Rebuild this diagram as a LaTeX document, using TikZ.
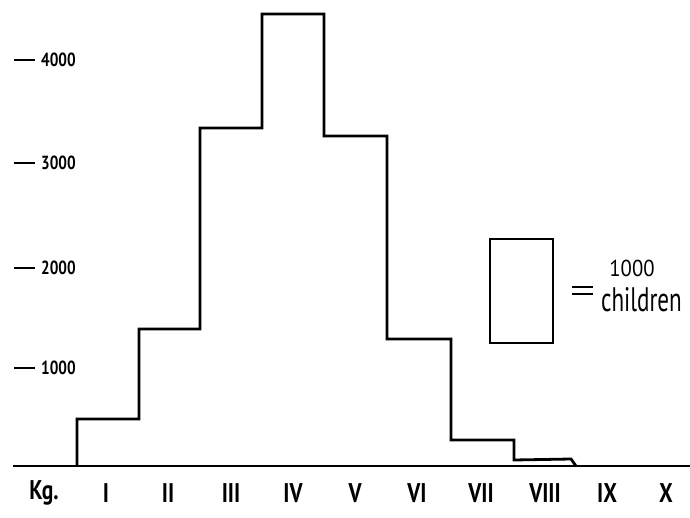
\documentclass[tikz,border=0pt]{standalone}
\usepackage{fontspec}
\setmainfont{PT Sans}
\begin{document}
\begin{tikzpicture}[x=1pt,y=-1pt,
  ink/.style={line width=2.8pt,line join=miter,black},
  tick/.style={line width=2.2pt,black},
  ticklab/.style={anchor=west,inner sep=0pt,xscale=0.8,font=\fontsize{19}{20}\selectfont\bfseries},
  catlab/.style={anchor=center,inner sep=0pt,xscale=0.8,font=\fontsize{27}{29}\selectfont\bfseries}]
\useasboundingbox (0,0) rectangle (690,518);
% baseline
\draw[ink] (13,466) -- (690,466);
% histogram outline
\draw[ink] (77,466) -- (77,419) -- (139,419) -- (139,329) -- (200,329)
  -- (200,128) -- (262,128) -- (262,14) -- (324,14) -- (324,136) -- (387,136)
  -- (387,339) -- (451,339) -- (451,440) -- (514,440) -- (514,460)
  -- (571,459) -- (576,466);
% y ticks
\foreach \yy/\lab in {60/4000,163/3000,268/2000,368/1000}{
  \draw[tick] (14,\yy) -- (35,\yy);
  \node[ticklab] at (41,\yy) {\lab};
}
% category labels
\foreach \xx/\lab in {44/Kg.,106/I,168/II,231/III,293/IV,355/V,417/VI,481/VII,545/VIII,607/IX,666/X}{
  \node[catlab] at (\xx,493) {\lab};
}
% legend
\draw[ink] (490,239) rectangle (553,343);
\draw[line width=2.2pt] (572,287) -- (593,287) (572,294) -- (593,294);
\node[inner sep=0pt,xscale=0.9,font=\fontsize{23}{24}\selectfont] at (632,268) {1000};
\node[inner sep=0pt,anchor=base west,xscale=0.68,font=\fontsize{34}{36}\selectfont] at (601,312) {children};
\end{tikzpicture}
\end{document}
